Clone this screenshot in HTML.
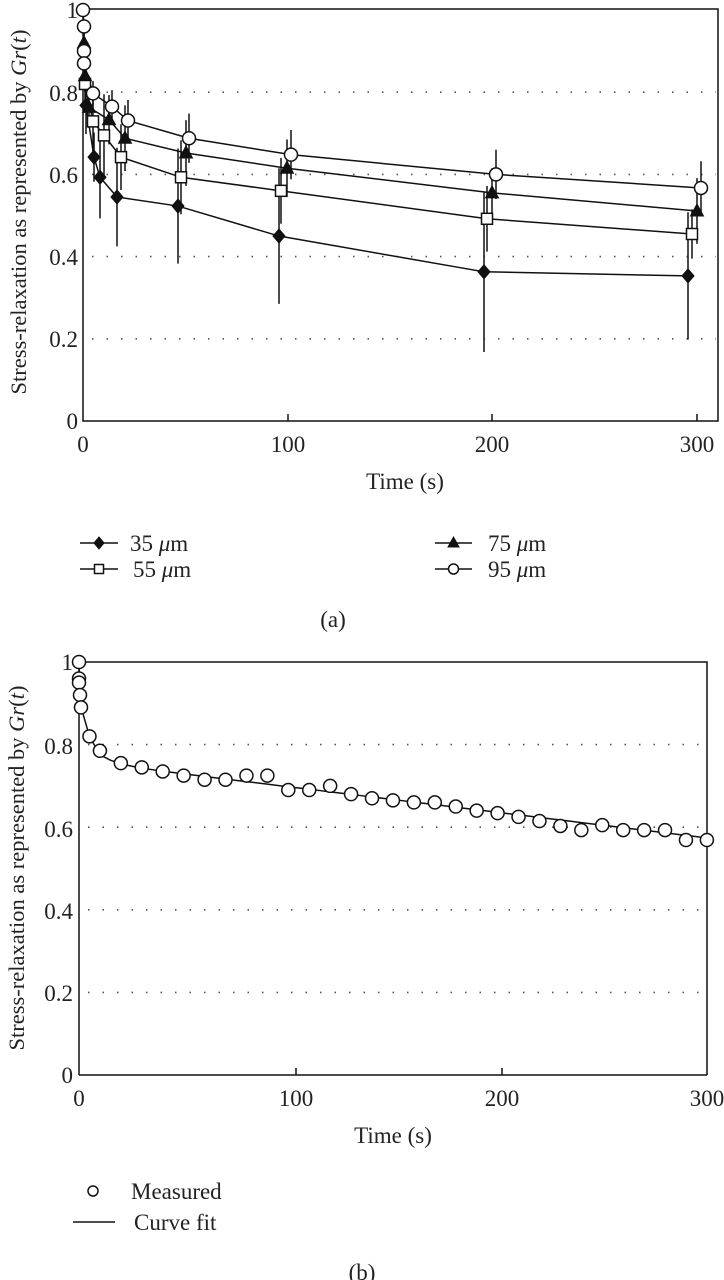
<!DOCTYPE html>
<html><head><meta charset="utf-8"><style>
html,body{margin:0;padding:0;background:#fff;}
svg{display:block;font-family:"Liberation Serif",serif;}
</style></head><body>
<svg id="s" width="724" height="1280" viewBox="0 0 724 1280" xmlns="http://www.w3.org/2000/svg">
<g fill="#222" font-size="23">
<text x="78" y="18" text-anchor="end">1</text>
<text x="78" y="101" text-anchor="end">0.8</text>
<text x="78" y="183" text-anchor="end">0.6</text>
<text x="78" y="265" text-anchor="end">0.4</text>
<text x="78" y="347" text-anchor="end">0.2</text>
<text x="78" y="429" text-anchor="end">0</text>
<text x="83" y="452" text-anchor="middle">0</text>
<text x="288" y="452" text-anchor="middle">100</text>
<text x="492" y="452" text-anchor="middle">200</text>
<text x="697" y="452" text-anchor="middle">300</text>
<text x="405" y="489" text-anchor="middle">Time (s)</text>
<text transform="translate(26,212) rotate(-90)" text-anchor="middle" font-size="22.5">Stress-relaxation as represented by <tspan font-style="italic">Gr</tspan>(<tspan font-style="italic">t</tspan>)</text>
<text x="130" y="551">35 <tspan font-style="italic">μ</tspan>m</text>
<text x="133" y="577">55 <tspan font-style="italic">μ</tspan>m</text>
<text x="488" y="551">75 <tspan font-style="italic">μ</tspan>m</text>
<text x="488" y="577">95 <tspan font-style="italic">μ</tspan>m</text>
<text x="333" y="627" text-anchor="middle">(a)</text>
<text x="73" y="670" text-anchor="end">1</text>
<text x="73" y="754" text-anchor="end">0.8</text>
<text x="73" y="837" text-anchor="end">0.6</text>
<text x="73" y="919" text-anchor="end">0.4</text>
<text x="73" y="1001" text-anchor="end">0.2</text>
<text x="73" y="1083" text-anchor="end">0</text>
<text x="79" y="1106" text-anchor="middle">0</text>
<text x="296" y="1106" text-anchor="middle">100</text>
<text x="502" y="1106" text-anchor="middle">200</text>
<text x="707" y="1106" text-anchor="middle">300</text>
<text x="393" y="1143" text-anchor="middle">Time (s)</text>
<text transform="translate(24,868) rotate(-90)" text-anchor="middle" font-size="22.5">Stress-relaxation as represented by <tspan font-style="italic">Gr</tspan>(<tspan font-style="italic">t</tspan>)</text>
<text x="131" y="1199">Measured</text>
<text x="134" y="1230">Curve fit</text>
<text x="362" y="1280" text-anchor="middle">(b)</text>
</g>
<g id="g" stroke="#111" fill="none" stroke-width="1.5"></g>
</svg>
<script>
var g=document.getElementById('g'),NS='http://www.w3.org/2000/svg';
function el(t,a){var e=document.createElementNS(NS,t);for(var k in a)e.setAttribute(k,a[k]);g.appendChild(e);return e;}
function grid(x1,x2,ys){ys.forEach(function(y){el('line',{x1:x1,x2:x2,y1:y,y2:y,stroke:'#555','stroke-width':1.6,'stroke-dasharray':'1.5 13'});});}
var ya=function(v){return 421-411*v;};
grid(92,716,[ya(.8),ya(.6),ya(.4),ya(.2)]);
el('path',{d:'M83 421 V9 H718 V421 Z'});
[288,492,697].forEach(function(x){el('line',{x1:x,x2:x,y1:421,y2:414});});
function mk(type,x,y){
 if(type=='d')el('path',{d:'M'+x+' '+(y-7)+'L'+(x+6)+' '+y+'L'+x+' '+(y+7)+'L'+(x-6)+' '+y+'Z',fill:'#111','stroke-width':1});
 if(type=='s')el('rect',{x:x-5.5,y:y-5.5,width:11,height:11,fill:'#fff'});
 if(type=='t')el('path',{d:'M'+x+' '+(y-7)+'L'+(x+6.5)+' '+(y+5)+'L'+(x-6.5)+' '+(y+5)+'Z',fill:'#111','stroke-width':1});
 if(type=='c')el('circle',{cx:x,cy:y,r:6.5,fill:'#fff'});
}
var S={
d:[[86,.768,.07],[94,.642,.06],[100,.593,.1],[117,.545,.12],[178,.523,.14],[279,.45,.165],[484,.363,.195],[688,.353,.155]],
s:[[85,.82,.05],[93,.729,.08],[104,.695,.1],[121,.642,.08],[181,.593,.09],[281,.56,.08],[487,.492,.08],[692,.455,.06]],
t:[[84,.92,.03],[85,.84,.04],[89,.763,.05],[109,.733,.06],[125,.688,.08],[186,.652,.08],[287,.615,.07],[492,.555,.06],[697,.511,.08]],
c:[[83,1,0],[84,.96,0],[84,.9,0],[84,.87,0],[93,.797,.03],[112,.765,.04],[128,.731,.05],[189,.688,.06],[291,.648,.06],[496,.6,.06],[701,.567,.065]]};
['d','s','t','c'].forEach(function(k){var p=S[k];
 el('polyline',{points:p.map(function(q){return q[0]+','+ya(q[1]);}).join(' ')});
 p.forEach(function(q){if(q[2])el('line',{x1:q[0],x2:q[0],y1:ya(q[1]-q[2]),y2:ya(q[1]+q[2])});});});
['d','s','t','c'].forEach(function(k){S[k].forEach(function(q){mk(k,q[0],ya(q[1]));});});
[[80,118,543,'d'],[80,118,569,'s'],[435,472,543,'t'],[435,472,569,'c']].forEach(function(l){
 el('line',{x1:l[0],x2:l[1],y1:l[2],y2:l[2]});var x=(l[0]+l[1])/2,y=l[2];
 if(l[3]=='d')el('path',{d:'M'+x+' '+(y-6)+'L'+(x+5)+' '+y+'L'+x+' '+(y+6)+'L'+(x-5)+' '+y+'Z',fill:'#111','stroke-width':1});
 if(l[3]=='s')el('rect',{x:x-4.5,y:y-4.5,width:9,height:9,fill:'#fff'});
 if(l[3]=='t')el('path',{d:'M'+x+' '+(y-6)+'L'+(x+5.5)+' '+(y+4)+'L'+(x-5.5)+' '+(y+4)+'Z',fill:'#111','stroke-width':1});
 if(l[3]=='c')el('circle',{cx:x,cy:y,r:5,fill:'#fff'});});
var yb=function(v){return 1075-413*v;};
grid(88,705,[yb(.8),yb(.6),yb(.4),yb(.2)]);
el('path',{d:'M79 1075 V662 H707 V1075'});
el('line',{x1:79,x2:707,y1:1075,y2:1075});
[296,502].forEach(function(x){el('line',{x1:x,x2:x,y1:1075,y2:1068});});
var xb=function(t){return 79+2.093*t;};
var fit=['79,'+yb(1),'80,'+yb(.9),xb(5)+','+yb(.82)];
for(var t=10;t<=300;t+=5){fit.push(xb(t)+','+yb(0.8-0.00062*t-0.04*(1-Math.exp(-(t-5)/8))));}
el('polyline',{points:fit.join(' ')});
[[79,1],[79,.96],[79,.95],[80,.92],[81,.89]].forEach(function(p){mk('c',p[0],yb(p[1]));});
var bt=[5,10,20,30,40,50,60,70,80,90,100,110,120,130,140,150,160,170,180,190,200,210,220,230,240,250,260,270,280,290,300];
var bv=[.82,.785,.755,.745,.735,.725,.715,.715,.725,.725,.69,.69,.70,.68,.67,.665,.66,.66,.65,.64,.634,.625,.615,.603,.593,.605,.593,.593,.593,.569,.569];
for(var i=0;i<bt.length;i++){mk('c',xb(bt[i]),yb(bv[i]));}
el('circle',{cx:93,cy:1191,r:5,fill:'#fff'});
el('line',{x1:73,x2:115,y1:1222,y2:1222});
</script>
</body></html>
